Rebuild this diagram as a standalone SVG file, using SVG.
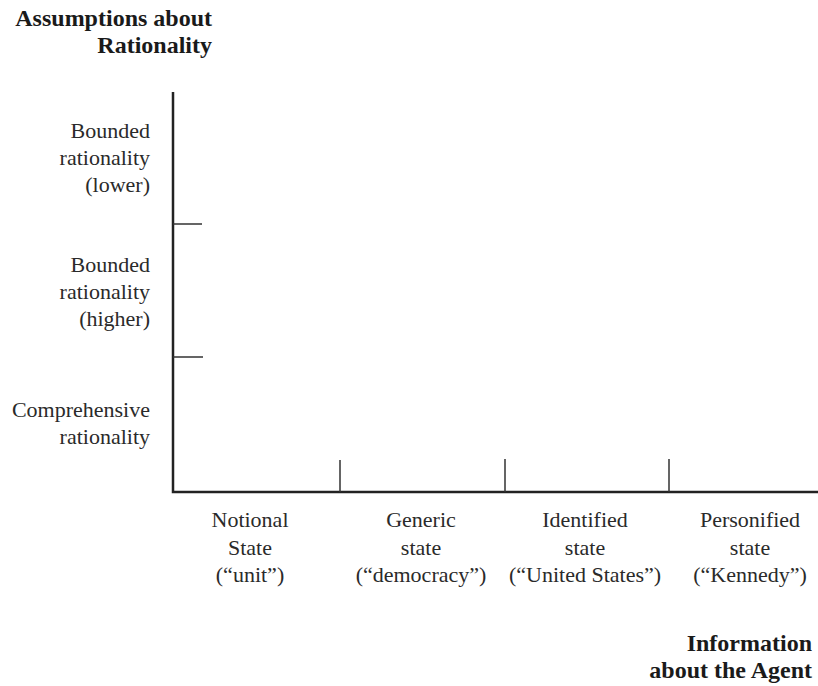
<svg xmlns="http://www.w3.org/2000/svg" width="818" height="686" viewBox="0 0 818 686">
<style>
.t{font-family:"Liberation Serif","DejaVu Serif",serif;font-size:22px;fill:#2a2a2a}
.b{font-family:"Liberation Serif","DejaVu Serif",serif;font-size:24px;font-weight:bold;fill:#1a1a1a}
.ax{stroke:#222;stroke-width:2.5;fill:none}
.tk{stroke:#333;stroke-width:1.5;fill:none}
</style>
<rect width="818" height="686" fill="#fff"/>
<g id="axes">
<path class="ax" d="M173,92 V492 H818"/>
<path class="tk" d="M173,224 H202 M173,357 H203 M340,460 V492 M505,459 V492 M669,459 V492"/>
</g>
<g id="y-title"><text class="b" text-anchor="end" x="212" y="26">Assumptions about</text><text class="b" text-anchor="end" x="212" y="53">Rationality</text></g>
<g id="y-lower"><text class="t" text-anchor="end" x="150" y="138">Bounded</text><text class="t" text-anchor="end" x="150" y="165">rationality</text><text class="t" text-anchor="end" x="150" y="192">(lower)</text></g>
<g id="y-higher"><text class="t" text-anchor="end" x="150" y="272">Bounded</text><text class="t" text-anchor="end" x="150" y="299">rationality</text><text class="t" text-anchor="end" x="150" y="326">(higher)</text></g>
<g id="y-comp"><text class="t" text-anchor="end" x="150" y="417">Comprehensive</text><text class="t" text-anchor="end" x="150" y="444">rationality</text></g>
<g id="x-notional"><text class="t" text-anchor="middle" x="250" y="527">Notional</text><text class="t" text-anchor="middle" x="250" y="555">State</text><text class="t" text-anchor="middle" x="250" y="582">(“unit”)</text></g>
<g id="x-generic"><text class="t" text-anchor="middle" x="421" y="527">Generic</text><text class="t" text-anchor="middle" x="421" y="555">state</text><text class="t" text-anchor="middle" x="421" y="582">(“democracy”)</text></g>
<g id="x-identified"><text class="t" text-anchor="middle" x="585" y="527">Identified</text><text class="t" text-anchor="middle" x="585" y="555">state</text><text class="t" text-anchor="middle" x="585" y="582">(“United States”)</text></g>
<g id="x-personified"><text class="t" text-anchor="middle" x="750" y="527">Personified</text><text class="t" text-anchor="middle" x="750" y="555">state</text><text class="t" text-anchor="middle" x="750" y="582">(“Kennedy”)</text></g>
<g id="x-title"><text class="b" text-anchor="end" x="812" y="651">Information</text><text class="b" text-anchor="end" x="812" y="678">about the Agent</text></g>
</svg>
